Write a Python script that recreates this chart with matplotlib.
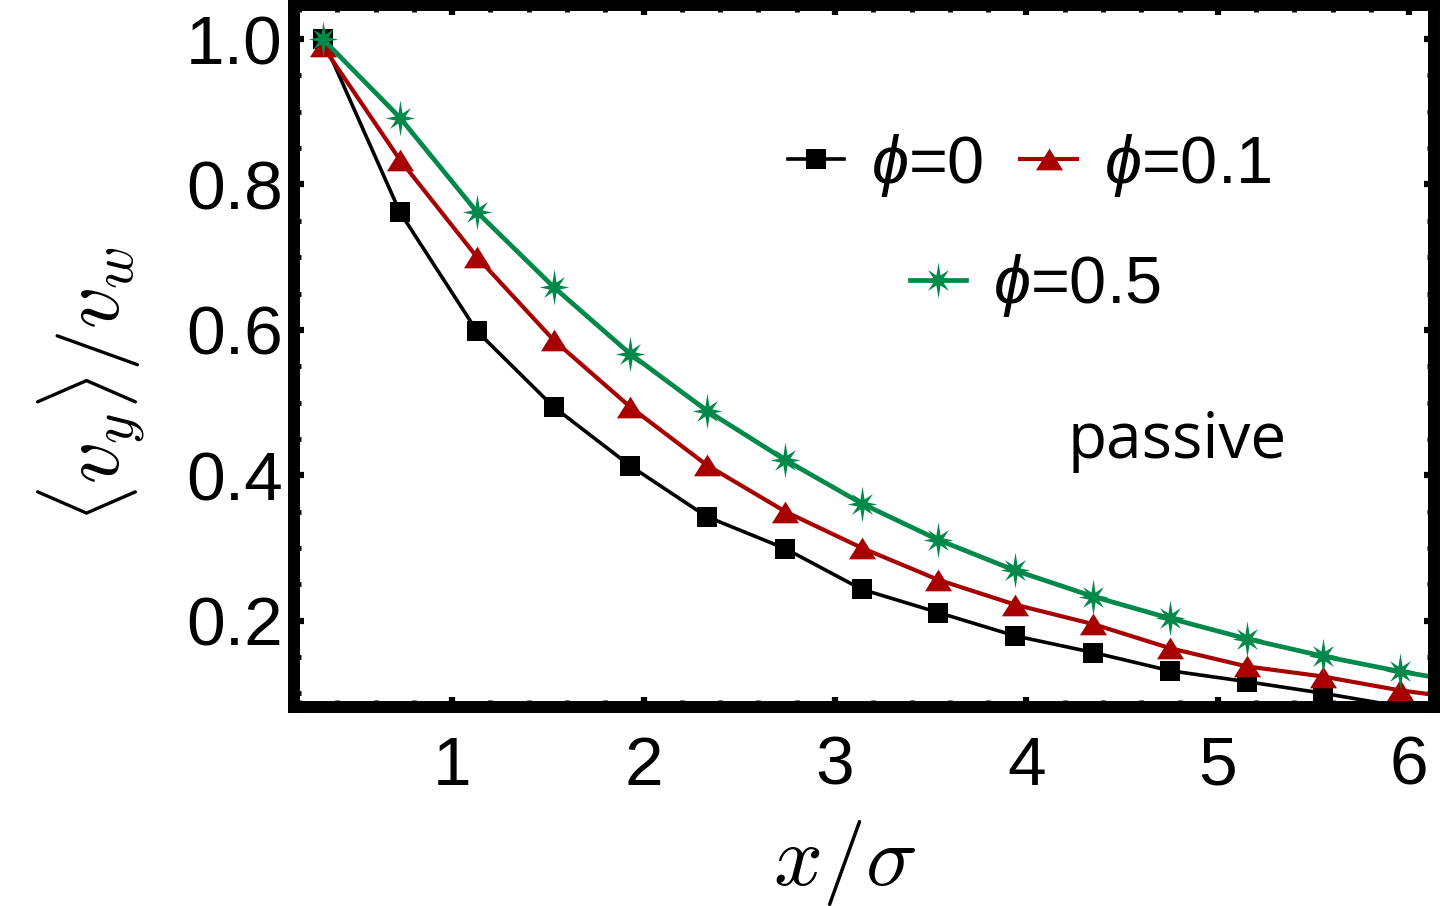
import numpy as np
import matplotlib
matplotlib.use('Agg')
import matplotlib.pyplot as plt
from matplotlib.path import Path
from matplotlib.ticker import MultipleLocator

# data (last point lies just past the right edge)
x_pos = [0.325, 0.727, 1.13, 1.53, 1.93, 2.33, 2.74, 3.14, 3.54, 3.94,
         4.35, 4.75, 5.15, 5.55, 5.95, 6.36]
v_phi0 = [1.0, 0.762, 0.598, 0.494, 0.413, 0.343, 0.299, 0.243, 0.211, 0.179,
          0.156, 0.131, 0.116, 0.100, 0.082, 0.066]
v_phi01 = [0.99, 0.834, 0.700, 0.586, 0.494, 0.414, 0.350, 0.300, 0.256, 0.222,
           0.195, 0.162, 0.137, 0.123, 0.104, 0.090]
v_phi05 = [1.0, 0.892, 0.762, 0.659, 0.567, 0.489, 0.421, 0.361, 0.311, 0.269,
           0.233, 0.203, 0.175, 0.151, 0.130, 0.112]
labels = [r'$\phi$=0', r'$\phi$=0.1', r'$\phi$=0.5']
x_ticks = [1, 2, 3, 4, 5, 6]
y_ticks = [0.2, 0.4, 0.6, 0.8, 1.0]

plt.rcParams['font.family'] = ['Liberation Sans', 'DejaVu Sans']
plt.rcParams['mathtext.fontset'] = 'custom'
plt.rcParams['mathtext.it'] = 'Liberation Sans:italic'
plt.rcParams['mathtext.rm'] = 'Liberation Sans'


def star_marker(n=8, inner=0.3):
    verts = []
    for k in range(n):
        a = np.pi / 2 + 2 * np.pi * k / n
        r = 1.0 if k % (n // 2) == 0 else 0.82
        verts.append((r * np.cos(a), r * np.sin(a)))
        b = a + np.pi / n
        verts.append((inner * np.cos(b), inner * np.sin(b)))
    verts.append(verts[0])
    return Path(verts, closed=True)


tri = Path([(-1, -0.8), (1, -0.8), (0, 0.8), (-1, -0.8)], closed=True)

fig = plt.figure(figsize=(14.4, 9.06), dpi=100)
ax = fig.add_axes([0.2042, 0.2196, 0.7917, 0.7749])

l0, = ax.plot(x_pos, v_phi0, color='black', lw=2.6, marker='s', ms=14,
              mew=0, label=labels[0])
l1, = ax.plot(x_pos, v_phi01, color='#a80000', lw=3.0, marker=tri, ms=19.5,
              mew=0, label=labels[1])
l2, = ax.plot(x_pos, v_phi05, color='#00894a', lw=3.4, marker=star_marker(),
              ms=26, mew=0, label=labels[2])

ax.set_xlim(0.174, 6.13)
ax.set_ylim(0.081, 1.047)
ax.set_xticks(x_ticks)
ax.set_yticks(y_ticks)
ax.xaxis.set_minor_locator(MultipleLocator(0.2))
ax.yaxis.set_minor_locator(MultipleLocator(0.05))
ax.tick_params(which='both', direction='in', top=True, right=True,
               labelsize=50)
ax.tick_params(which='major', length=7.5, width=4.5)
ax.tick_params(which='minor', length=5.2, width=3.5)
ax.tick_params(axis='y', pad=8)
ax.tick_params(axis='x', pad=20)
for s in ax.spines.values():
    s.set_linewidth(8.6)

ax.set_xlabel(r'$x/\sigma$', fontsize=62, math_fontfamily='cm')
ax.xaxis.set_label_coords(0.483, -0.158)
ax.set_ylabel(r'$\langle v_y\rangle/v_w$', fontsize=60, math_fontfamily='cm')
ax.yaxis.set_label_coords(-0.13, 0.46)

leg1 = ax.legend(handles=[l0, l1], ncol=2, loc='center',
                 bbox_to_anchor=(0.645, 0.772), frameon=False, fontsize=48,
                 handlelength=0.85, handletextpad=0.4, columnspacing=0.55)
ax.add_artist(leg1)
ax.legend(handles=[l2], loc='center', bbox_to_anchor=(0.65, 0.6),
          frameon=False, fontsize=48, handlelength=0.85, handletextpad=0.4)

ax.text(0.678, 0.355, 'passive', transform=ax.transAxes, fontsize=46,
        family='Open Sans', va='baseline', ha='left')

fig.savefig('out.png', dpi=100)
